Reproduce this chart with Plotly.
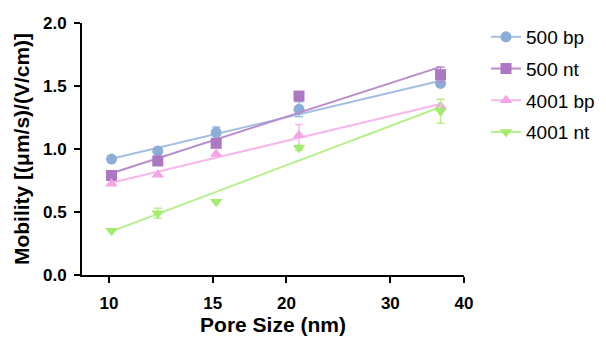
import numpy as np
import plotly.graph_objects as go

pore_size = [10.1, 12.1, 15.2, 21.0, 36.5]
series_names = ["500 bp", "500 nt", "4001 bp", "4001 nt"]
mob_500bp = [0.92, 0.985, 1.13, 1.315, 1.52]
mob_500nt = [0.79, 0.905, 1.045, 1.42, 1.59]
mob_4001bp = [0.725, 0.795, 0.96, 1.11, 1.34]
mob_4001nt = [0.352, 0.49, 0.582, 1.01, 1.30]
err_500bp = [0.0, 0.0, 0.045, 0.06, 0.0]
err_500nt = [0.0, 0.0, 0.0, 0.0, 0.06]
err_4001bp = [0.0, 0.0, 0.0, 0.085, 0.0]
err_4001nt = [0.0, 0.04, 0.0, 0.02, 0.095]

marker_colors = ["#8DADD9", "#AD78C2", "#F4A5E6", "#A4EC6B"]
line_colors = ["#A3BFE4", "#B98CCB", "#F7B8EC", "#B5F08A"]
symbols = ["circle", "square", "triangle-up", "triangle-down"]

values = [mob_500bp, mob_500nt, mob_4001bp, mob_4001nt]
errors = [err_500bp, err_500nt, err_4001bp, err_4001nt]

FONT = "Liberation Sans, Arial, sans-serif"
W, H = 606, 343
ML, MR = 82, 0
PLOT_RIGHT = 464

fig = go.Figure()
lx = np.log10(pore_size)
for i, name in enumerate(series_names):
    y = np.array(values[i])
    slope, inter = np.polyfit(lx, y, 1)
    xs = [pore_size[0], pore_size[-1]]
    ys = [inter + slope * np.log10(v) for v in xs]
    fig.add_trace(go.Scatter(
        x=xs, y=ys, mode="lines", line=dict(color=line_colors[i], width=2),
        showlegend=False, hoverinfo="skip", legendgroup=name))
    fig.add_trace(go.Scatter(
        x=pore_size, y=values[i], mode="markers", name=name, legendgroup=name,
        showlegend=False,
        marker=dict(symbol=symbols[i], size=11, color=marker_colors[i]),
        error_y=dict(type="data", array=errors[i], color=line_colors[i],
                     thickness=1.5, width=4, visible=True)))

for i, name in enumerate(series_names):
    fig.add_trace(go.Scatter(
        x=[None], y=[None], mode="lines+markers", name=name, legendgroup=name,
        marker=dict(symbol=symbols[i], size=11, color=marker_colors[i]),
        line=dict(color=line_colors[i], width=2), showlegend=True))

paper_w = W - ML - MR
fig.update_layout(
    width=W, height=H,
    margin=dict(l=ML, r=MR, t=23, b=68),
    paper_bgcolor="white", plot_bgcolor="white",
    font=dict(family=FONT, color="black"),
    legend=dict(x=(486 - ML) / paper_w, y=1.02, xanchor="left", yanchor="top",
                font=dict(size=19, family=FONT), bgcolor="rgba(0,0,0,0)",
                tracegroupgap=4, itemwidth=30),
    showlegend=True,
)
fig.update_xaxes(
    type="log", range=[np.log10(9.0), np.log10(40.0)],
    domain=[0, (PLOT_RIGHT - ML) / paper_w],
    tickvals=[10, 15, 20, 30, 40], ticktext=["10", "15", "20", "30", "40"],
    showline=True, linecolor="black", linewidth=2,
    ticks="outside", ticklen=6, tickwidth=2, tickcolor="black",
    showgrid=False, zeroline=False, automargin=False, ticklabelstandoff=6,
    tickfont=dict(size=17, family=FONT, weight="bold"),
    title=dict(text="<b>Pore Size (nm)</b>", font=dict(size=21), standoff=2),
)
fig.update_yaxes(
    range=[0, 2.0], tickvals=[0, 0.5, 1.0, 1.5, 2.0],
    ticktext=["0.0", "0.5", "1.0", "1.5", "2.0"],
    showline=True, linecolor="black", linewidth=2,
    ticks="outside", ticklen=6, tickwidth=2, tickcolor="black",
    showgrid=False, zeroline=False, automargin=False, ticklabelstandoff=4,
    tickfont=dict(size=17, family=FONT, weight="bold"),
    title=dict(text="<b>Mobility [(μm/s)/(V/cm)]</b>", font=dict(size=21), standoff=8),
)
fig.write_html("out.html", post_script="document.body.style.margin='0';",
               config={"displayModeBar": False})
